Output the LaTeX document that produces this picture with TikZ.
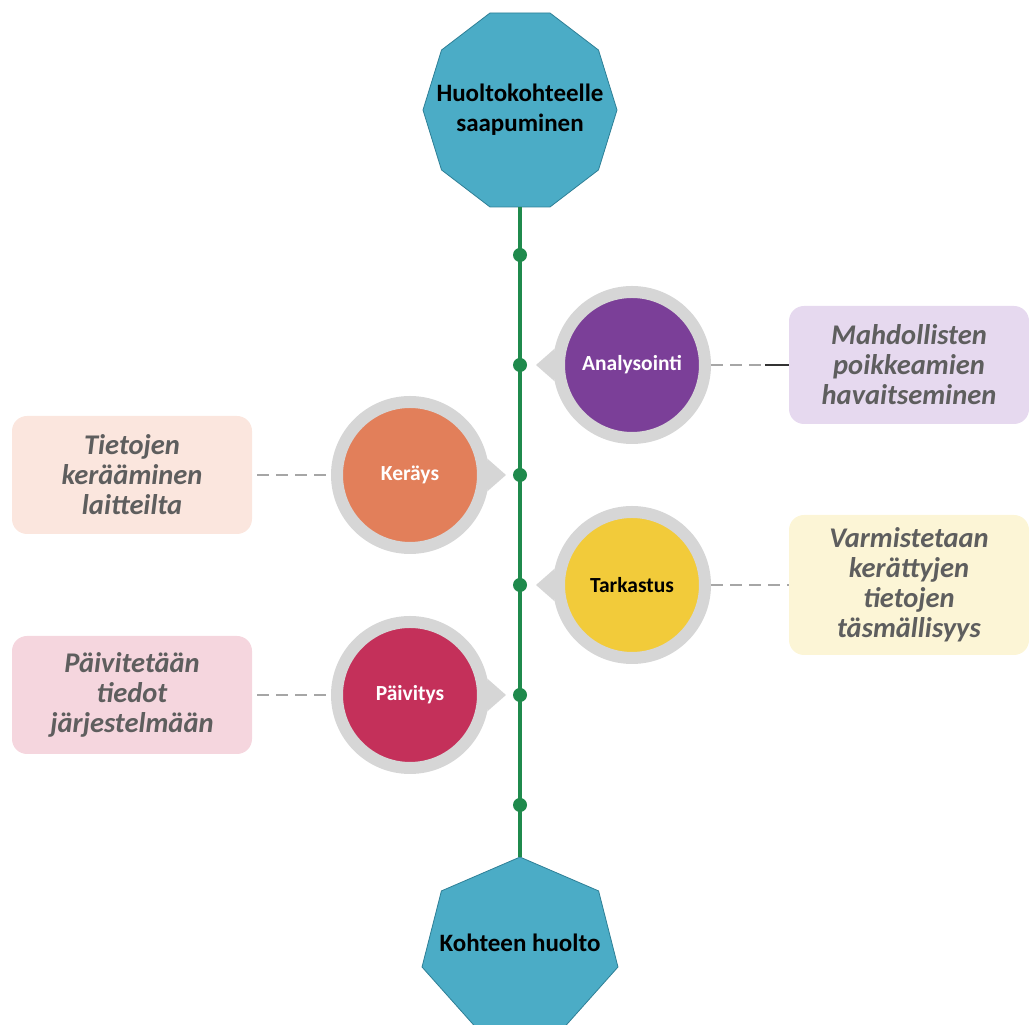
\documentclass[tikz,border=0pt]{standalone}
\usepackage{fontspec}
\setmainfont{Carlito}
\usetikzlibrary{shapes.geometric}

\definecolor{polyblue}{HTML}{4BACC6}
\definecolor{polyedge}{HTML}{2E7F96}
\definecolor{linegreen}{HTML}{1F8A4C}
\definecolor{ringgray}{HTML}{D6D6D6}
\definecolor{dashgray}{HTML}{A6A6A6}
\definecolor{notegray}{HTML}{5E5E5E}
\definecolor{analcol}{HTML}{7B3F98}
\definecolor{keraycol}{HTML}{E27F5A}
\definecolor{tarkcol}{HTML}{F2CB3A}
\definecolor{paivcol}{HTML}{C4305A}
\definecolor{analfill}{HTML}{E6D9EF}
\definecolor{krayfill}{HTML}{FBE6DE}
\definecolor{tarkfill}{HTML}{FCF5D6}
\definecolor{paivfill}{HTML}{F5D6DE}

\tikzset{
	endpoly/.style = {regular polygon, draw = polyedge, fill = polyblue,
		line width = 0.8pt, inner sep = 0pt, outer sep = 0pt},
	polytext/.style = {font = \fontsize{25}{30}\selectfont\bfseries, align = center},
	stepcircle/.style = {circle, draw = ringgray, line width = 12pt,
		minimum size = 146pt, inner sep = 0pt, text = white,
		font = \fontsize{21.5}{25}\selectfont\bfseries},
	notebox/.style = {rectangle, rounded corners = 15pt, minimum width = 240pt,
		minimum height = 118pt, align = center, text = notegray,
		font = \fontsize{28.5}{30}\selectfont\bfseries\itshape},
	pointerfill/.style = {fill = ringgray},
	dashline/.style = {draw = dashgray, line width = 2pt, dash pattern = on 12pt off 7pt},
	timeline/.style = {draw = linegreen, line width = 4pt},
	stepdot/.style = {circle, fill = linegreen, inner sep = 0pt, minimum size = 14pt},
}

\begin{document}
\begin{tikzpicture}[x = 1pt, y = 1pt]
\path[use as bounding box] (0,0) rectangle (1029,1025);

\node[endpoly, regular polygon sides = 10,
	minimum size = 200pt, xscale = 0.97, yscale = 1.02] (arrive) at (520,915) {};
\node[polytext] (arrivetext) at (arrive.center) {Huoltokohteelle\\saapuminen};
\node[endpoly, regular polygon sides = 7,
	minimum size = 201pt, yscale = 0.895] (service) at (520,78) {};
\node[polytext] (servicetext) at (520,82) {Kohteen huolto};

\draw[timeline] (arrive.south) -- (service.north);
\foreach \y [count = \i] in {770,660,550,440,330,220}
	\node[stepdot] (d\i) at (520,\y) {};

\node[stepcircle, fill = analcol] (anal) at (632,660) {Analysointi};
\node[stepcircle, fill = keraycol] (keray) at (410,550) {Keräys};
\node[stepcircle, fill = tarkcol, text = black] (tark) at (632,440) {Tarkastus};
\node[stepcircle, fill = paivcol] (paiv) at (410,330) {Päivitys};

\fill[pointerfill] (anal.168) -- ([xshift = -17pt]anal.west) -- (anal.192) -- cycle;
\fill[pointerfill] (keray.12) -- ([xshift = 17pt]keray.east) -- (keray.-12) -- cycle;
\fill[pointerfill] (tark.168) -- ([xshift = -17pt]tark.west) -- (tark.192) -- cycle;
\fill[pointerfill] (paiv.12) -- ([xshift = 17pt]paiv.east) -- (paiv.-12) -- cycle;

\node[notebox, fill = analfill] (analbox) at (909,660)
	{Mahdollisten\\poikkeamien\\havaitseminen};
\node[notebox, fill = krayfill] (keraybox) at (132,550)
	{Tietojen\\kerääminen\\laitteilta};
\node[notebox, fill = tarkfill, minimum height = 140pt] (tarkbox) at (909,440)
	{Varmistetaan\\kerättyjen\\tietojen\\täsmällisyys};
\node[notebox, fill = paivfill] (paivbox) at (132,330)
	{Päivitetään\\tiedot\\järjestelmään};

\draw[dashline] (anal.east) -- (analbox.west);
\draw[line width = 2pt, draw = black!80] ([xshift = -24pt]analbox.west) -- (analbox.west);
\draw[dashline] ([xshift = 5pt]keraybox.east) -- (keray.west);
\draw[dashline] (tark.east) -- (tarkbox.west);
\draw[dashline] ([xshift = 5pt]paivbox.east) -- (paiv.west);
\end{tikzpicture}
\end{document}
